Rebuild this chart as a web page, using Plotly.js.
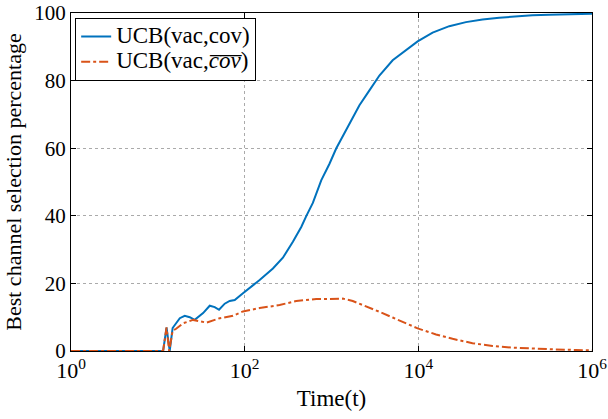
<!DOCTYPE html>
<html>
<head>
<meta charset="utf-8">
<script src="https://cdn.plot.ly/plotly-3.0.1.min.js"></script>
<style>html,body{margin:0;padding:0;background:#fff;}#chart{width:608px;height:419px;}</style>
</head>
<body>
<div id="chart"></div>
<script>
// Series 1: UCB(vac,cov)
var tCov = [1, 11.5, 12.6, 13.7, 14.8, 17.9, 20.4, 23.3, 26.6, 33.2, 39.6, 45.2, 50.7, 58.9, 67.2, 76.8, 95.6, 109, 148.7, 211.5, 275.6, 359.2, 448.4, 512, 609.8, 761.3, 948.4, 1132, 1476, 2098, 2734, 3562, 5064, 7222, 9817, 14600, 22720, 35350, 54830, 85310, 132700, 205900, 320400, 708900, 1000000];
var vCov = [0, 0, 6.9, 0, 6.8, 9.7, 10.4, 10, 9.2, 11.2, 13.4, 13, 12.2, 14, 14.8, 15.1, 17.1, 18.2, 21, 24.4, 27.6, 32.3, 36.7, 39.9, 43.8, 50.5, 55.4, 59.9, 65.3, 72.7, 77.1, 81.5, 86, 89.1, 91.6, 94.2, 96.1, 97.3, 98.1, 98.6, 99, 99.3, 99.5, 99.7, 99.8];
// Series 2: UCB(vac, cov-bar)
var tBar = [1, 11.5, 12.6, 13.5, 14.8, 16.1, 19.5, 25.5, 36.3, 51.6, 73.4, 95.6, 148.7, 211.5, 252.5, 392.9, 667, 948.4, 1349, 1757, 2506, 3562, 5064, 7222, 9817, 15980, 24800, 42090, 71450, 121300, 205900, 349800, 649400, 1000000];
var vBar = [0, 0, 7, 0, 6, 6.5, 8.2, 9.2, 8.4, 9.7, 10.4, 11.7, 12.7, 13.4, 13.6, 14.8, 15.4, 15.4, 15.5, 14.8, 13.3, 11.6, 9.9, 8.2, 6.7, 4.9, 3.6, 2.3, 1.5, 1.0, 0.7, 0.5, 0.3, 0.2];
// Tick labels
var xTickVals = [1, 100, 10000, 1000000];
var xTickText = ['10<sup>0</sup>', '10<sup>2</sup>', '10<sup>4</sup>', '10<sup>6</sup>'];
var yTickVals = [0, 20, 40, 60, 80, 100];
var nameCov = 'UCB(vac,cov)';
var nameBar = 'UCB(vac,<i>c\u0305o\u0305v\u0305</i>)';

var serif = '"Liberation Serif", "Times New Roman", serif';
function big(s) { return '<span style="font-size:23px">' + s + '</span>'; }
var traces = [
  {x: tCov, y: vCov, name: big(nameCov), type: 'scatter', mode: 'lines',
   line: {color: '#0072BD', width: 2}},
  {x: tBar, y: vBar, name: big(nameBar), type: 'scatter', mode: 'lines',
   line: {color: '#D95319', width: 2, dash: 'dashdot'}}
];
var layout = {
  width: 608, height: 419,
  margin: {l: 71, r: 16, t: 13, b: 68},
  paper_bgcolor: '#fff', plot_bgcolor: '#fff',
  font: {family: serif, size: 20, color: '#000'},
  showlegend: true,
  legend: {x: 0.008, y: 0.985, xanchor: 'left', yanchor: 'top',
           bgcolor: '#fff', bordercolor: '#000', borderwidth: 1,
           font: {family: serif, size: 17, color: '#000'},
           tracegroupgap: 0, itemwidth: 30},
  xaxis: {type: 'log', range: [0, 6], tickvals: xTickVals, ticktext: xTickText,
          showline: true, linecolor: '#000', linewidth: 1, mirror: 'ticks',
          ticks: 'inside', ticklen: 5, tickcolor: '#000',
          showgrid: true, gridcolor: '#aaa', griddash: 'dot', gridwidth: 1,
          zeroline: false, tickfont: {family: serif, size: 22},
          title: {text: 'Time(t)', font: {family: serif, size: 23}, standoff: 7}},
  yaxis: {range: [0, 100], tickvals: yTickVals,
          showline: true, linecolor: '#000', linewidth: 1, mirror: 'ticks',
          ticks: 'inside', ticklen: 5, tickcolor: '#000',
          showgrid: true, gridcolor: '#aaa', griddash: 'dot', gridwidth: 1,
          zeroline: false, tickfont: {family: serif, size: 21},
          title: {text: 'Best channel selection percentage', font: {family: serif, size: 22}, standoff: 6}}
};
Plotly.newPlot('chart', traces, layout, {displayModeBar: false, staticPlot: true});
</script>
</body>
</html>
